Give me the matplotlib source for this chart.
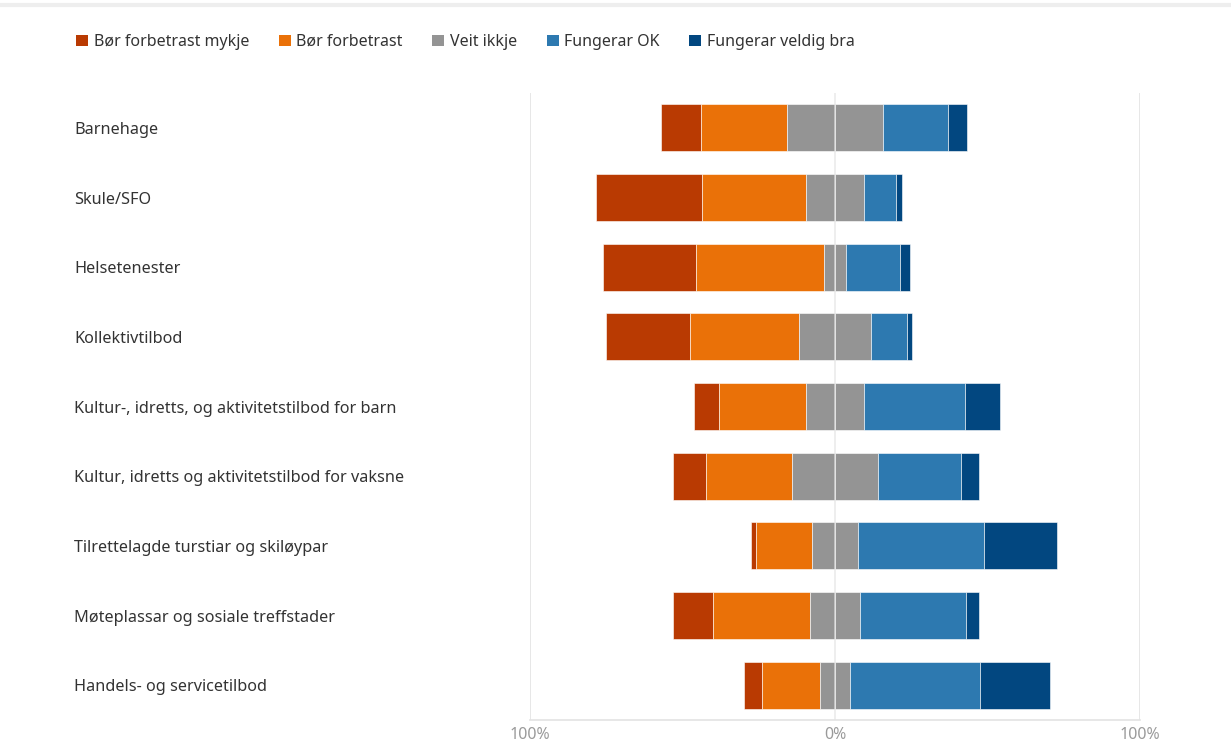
import numpy as np
import matplotlib
matplotlib.use("Agg")
import matplotlib.pyplot as plt
import matplotlib.transforms as mtransforms
from matplotlib.patches import Patch

plt.rcParams["font.family"] = ["Noto Sans", "DejaVu Sans"]

categories = [
    "Barnehage",
    "Skule/SFO",
    "Helsetenester",
    "Kollektivtilbod",
    "Kultur-, idretts, og aktivitetstilbod for barn",
    "Kultur, idretts og aktivitetstilbod for vaksne",
    "Tilrettelagde turstiar og skiløypar",
    "Møteplassar og sosiale treffstader",
    "Handels- og servicetilbod",
]
series_names = ["Bør forbetrast mykje", "Bør forbetrast", "Veit ikkje",
                "Fungerar OK", "Fungerar veldig bra"]

# percent of answers per category
bor_mykje = [13.2, 34.5, 30.3, 27.6, 8.1, 10.7, 1.7, 13.4, 5.7]
bor = [28.3, 34.3, 42.1, 35.7, 28.5, 28.4, 18.4, 31.6, 19.2]
veit_ikkje = [31.3, 18.8, 7.2, 23.5, 19.1, 27.9, 14.8, 16.5, 9.6]
ok = [21.4, 10.7, 17.8, 11.9, 33.1, 27.5, 41.5, 34.8, 42.6]
veldig_bra = [6.3, 2.0, 3.2, 1.6, 11.5, 5.7, 23.9, 4.1, 23.1]

x_ticks = [-100, 0, 100]
x_ticklabels = ["100%", "0%", "100%"]

colors = ["#B93A02", "#EA7108", "#949494", "#2D79B0", "#024780"]

fig = plt.figure(figsize=(12.31, 7.42), dpi=100)
ax = fig.add_axes([530 / 1231, 22 / 742, 610 / 1231, 627 / 742])

y = np.arange(len(categories))
h = 0.67
a = np.array(bor_mykje)
b = np.array(bor)
g = np.array(veit_ikkje)
c = np.array(ok)
d = np.array(veldig_bra)

# diverging: neutral split in half around zero
start = -(a + b + g / 2)
segments = [(a, colors[0]), (b, colors[1]), (g / 2, colors[2]),
            (g / 2, colors[2]), (c, colors[3]), (d, colors[4])]
left = start.copy()
for width, col in segments:
    ax.barh(y, width, left=left, height=h, color=col,
            edgecolor="white", linewidth=0.4, zorder=2)
    left = left + width

ax.set_xlim(-100, 100)
ax.set_ylim(len(categories) - 0.5, -0.5)

# gridlines
for xv in x_ticks:
    ax.axvline(xv, color="#e3e3e3", linewidth=1.2, zorder=3 if xv == 0 else 1,
               alpha=0.7 if xv == 0 else 1)

for s in ["top", "left", "right"]:
    ax.spines[s].set_visible(False)
ax.spines["bottom"].set_color("#e3e3e3")
ax.spines["bottom"].set_linewidth(1.2)

ax.set_xticks(x_ticks)
ax.set_xticklabels(x_ticklabels, color="#9a9a9a", fontsize=11.5)
ax.tick_params(axis="x", length=0, pad=5)
ax.set_yticks([])

# category labels, left aligned in figure space
trans = mtransforms.blended_transform_factory(fig.transFigure, ax.transData)
for yi, name in zip(y, categories):
    ax.text(74 / 1231, yi + 0.03, name, transform=trans, ha="left", va="center",
            fontsize=11.7, color="#333333")

handles = [Patch(facecolor=col, edgecolor="none") for col in colors]
fig.legend(handles, series_names, loc="center left",
           bbox_to_anchor=(62 / 1231, 1 - 42 / 742), ncol=5, frameon=False,
           fontsize=11.5, handlelength=0.75, handleheight=0.75,
           handletextpad=0.35, columnspacing=1.85, labelcolor="#333333")

# faint top border
fig.add_artist(plt.Line2D([0, 1], [1 - 5 / 742, 1 - 5 / 742],
                          transform=fig.transFigure, color="#eeeeee", linewidth=3))

fig.savefig("out.png", dpi=100)
